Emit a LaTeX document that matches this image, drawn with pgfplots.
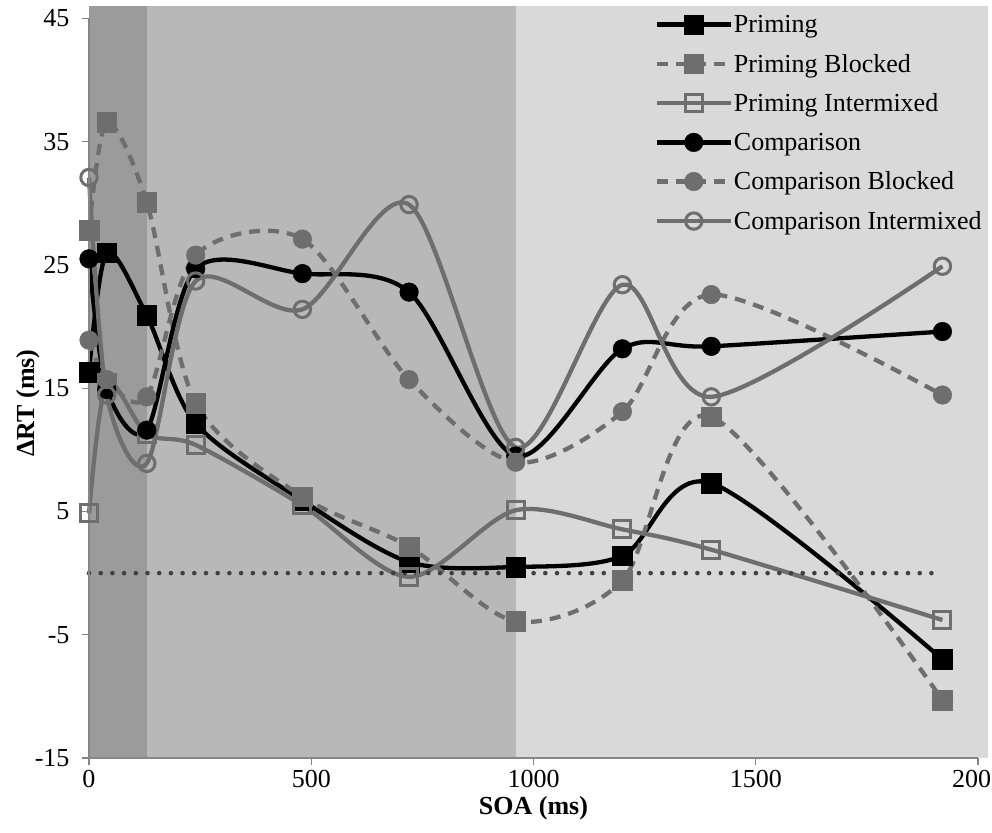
\documentclass[border=0pt]{standalone}
\usepackage{fontspec}
\setmainfont{Liberation Serif}
\usepackage{pgfplots}
\pgfplotsset{compat=1.18}
\definecolor{bgA}{HTML}{9B9B9B}
\definecolor{bgB}{HTML}{B8B8B8}
\definecolor{bgC}{HTML}{D9D9D9}
\definecolor{gline}{HTML}{6E6E6E}
\definecolor{axgray}{HTML}{868686}
\definecolor{dotc}{HTML}{404040}
\begin{document}
\begin{tikzpicture}
\begin{axis}[
  at={(0pt,0pt)}, anchor=south west,
  scale only axis, width=889pt, height=739.5pt,
  xmin=0, xmax=2000, ymin=-15, ymax=45,
  clip=false, axis on top,
  axis x line=bottom, axis y line=left,
  axis line style={draw=axgray, line width=1.6pt, -},
  xtick={0,500,1000,1500,2000}, xticklabels={0,500,1000,1500,2000},
  ytick={-15,-5,5,15,25,35,45}, yticklabels={-15,-5,5,15,25,35,45},
  tick align=outside, major tick length=7pt,
  tick style={draw=axgray, line width=1.2pt},
  ticklabel style={font=\fontsize{26}{29}\selectfont},
  yticklabel style={xshift=-9pt},
  xticklabel style={yshift=-2pt},
  xlabel={\textbf{SOA (ms)}}, ylabel={\textbf{ΔRT (ms)}},
  label style={font=\fontsize{26}{29}\selectfont},
  ylabel style={at={(axis description cs:-0.068,0.48)}, anchor=center},
  xlabel style={at={(axis description cs:0.5,-0.0675)}, anchor=center},
  smooth, tension=0.5,
  legend style={draw=none, fill=none, at={(0.636,1.006)}, anchor=north west,
    inner sep=0pt, row sep=18pt, font=\fontsize{26}{29}\selectfont,
    nodes={inner sep=1pt}},
  legend cell align=left,
  legend image code/.code={\draw[mark repeat=2,mark phase=2,#1] plot coordinates {(0pt,0pt) (37pt,0pt) (74pt,0pt)};},
]
\fill[bgA] (axis cs:0,-15) rectangle (axis cs:130,46);
\fill[bgB] (axis cs:130,-15) rectangle (axis cs:960,46);
\fill[bgC] (axis cs:960,-15) rectangle (axis cs:2022,46);

% Priming
\addplot[black, line width=4.3pt, mark=square*, mark size=9.8pt, mark options={solid, fill=black, line width=0.5pt}]
coordinates {(0,16.3) (40,26.0) (130,20.9) (240,12.15) (480,5.9) (720,0.9) (960,0.5) (1200,1.4) (1400,7.3) (1920,-7.0)};
\addlegendentry{Priming}
% Priming Blocked
\addplot[gline, line width=4.3pt, dash pattern=on 11pt off 8pt, mark=square*, mark size=9.8pt, mark options={solid, fill=gline, draw=gline, line width=0.5pt}]
coordinates {(0,27.8) (40,36.6) (130,30.1) (240,13.8) (480,6.2) (720,2.15) (960,-3.9) (1200,-0.6) (1400,12.7) (1920,-10.3)};
\addlegendentry{Priming Blocked}
% Priming Intermixed
\addplot[gline, line width=4.3pt, mark=square, mark size=8.5pt, mark options={solid, draw=gline, line width=3pt, fill=none}]
coordinates {(0,4.85) (40,15.4) (130,11.3) (240,10.4) (480,5.5) (720,-0.3) (960,5.1) (1200,3.55) (1400,1.9) (1920,-3.8)};
\addlegendentry{Priming Intermixed}
% Comparison
\addplot[black, line width=4.3pt, mark=*, mark size=9.3pt, mark options={solid, fill=black, line width=0.5pt}]
coordinates {(0,25.5) (40,14.9) (130,11.6) (240,24.7) (480,24.3) (720,22.8) (960,9.5) (1200,18.2) (1400,18.4) (1920,19.6)};
\addlegendentry{Comparison}
% Comparison Blocked
\addplot[gline, line width=4.3pt, dash pattern=on 11pt off 8pt, mark=*, mark size=9.3pt, mark options={solid, fill=gline, draw=gline, line width=0.5pt}]
coordinates {(0,18.9) (40,15.7) (130,14.3) (240,25.8) (480,27.1) (720,15.7) (960,9.0) (1200,13.1) (1400,22.6) (1920,14.45)};
\addlegendentry{Comparison Blocked}
% Comparison Intermixed
\addplot[gline, line width=4.3pt, mark=o, mark size=8.2pt, mark options={solid, draw=gline, line width=3pt, fill=none}]
coordinates {(0,32.1) (40,14.45) (130,8.9) (240,23.7) (480,21.4) (720,29.9) (960,10.2) (1200,23.4) (1400,14.3) (1920,24.9)};
\addlegendentry{Comparison Intermixed}
% zero line
\addplot[dotc, sharp plot, line width=4.6pt, line cap=round, dash pattern=on 0pt off 11.7pt, forget plot]
coordinates {(0,0) (1920,0)};
\end{axis}
\pgfresetboundingbox
\path[use as bounding box] (-89pt,-74pt) rectangle (903pt,758pt);
\end{tikzpicture}
\end{document}
